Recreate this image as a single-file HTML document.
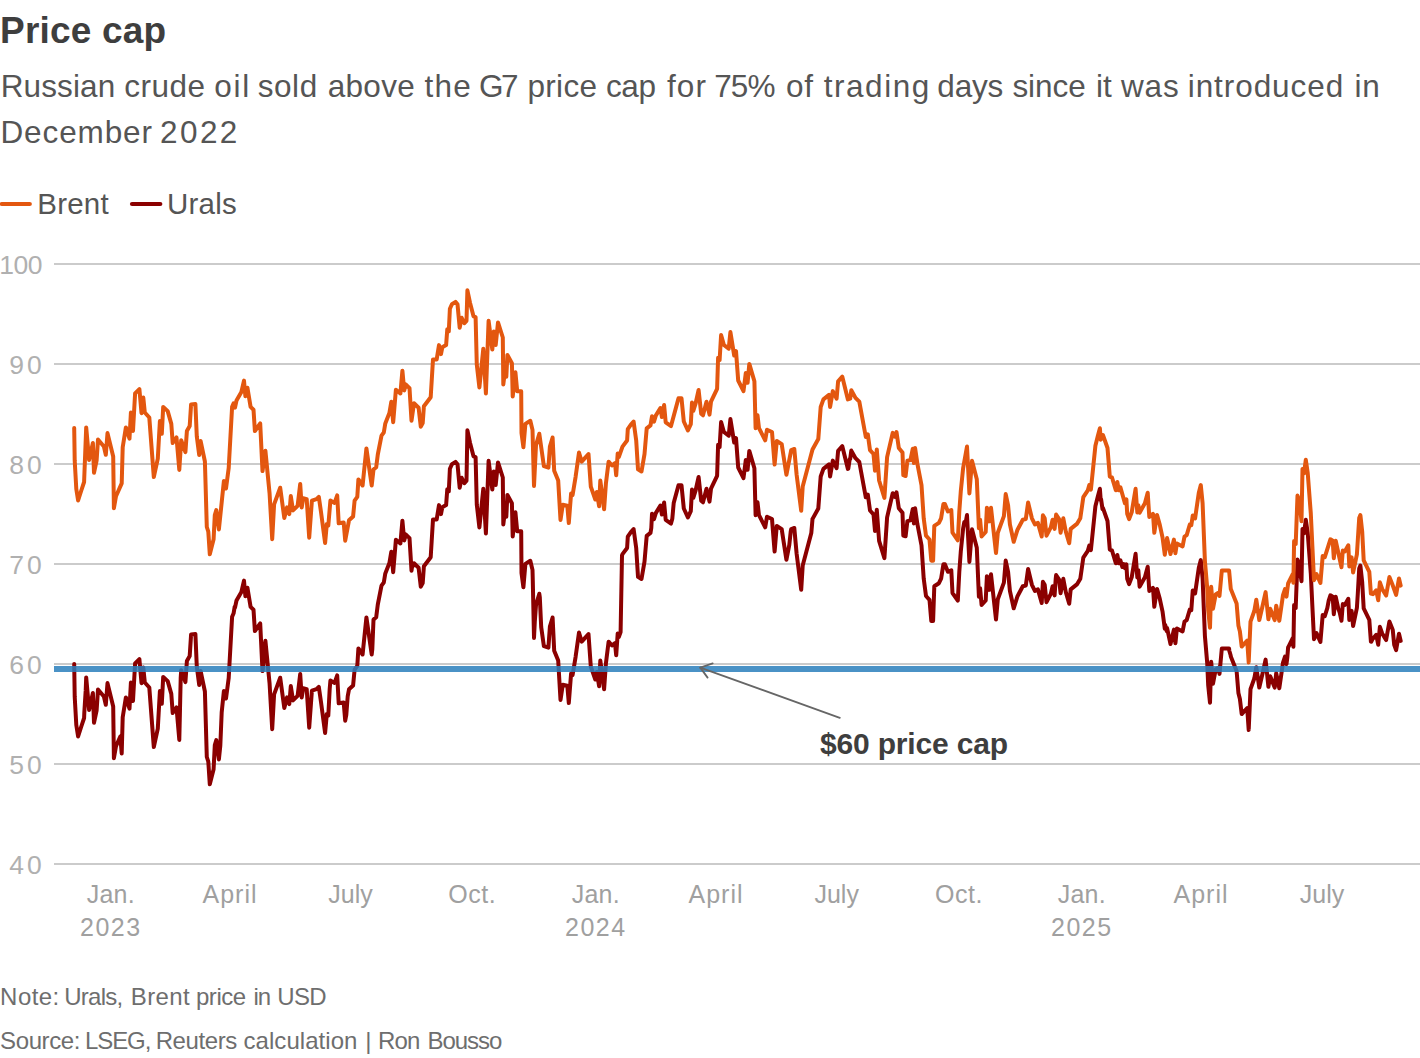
<!DOCTYPE html>
<html><head><meta charset="utf-8">
<style>
html,body{margin:0;padding:0;background:#fff;}
body{width:1420px;height:1058px;position:relative;overflow:hidden;font-family:"Liberation Sans",sans-serif;color:#404040;}
.t{position:absolute;white-space:nowrap;line-height:1;}
#title{left:0px;top:12.1px;font-size:37px;font-weight:bold;color:#3e3e3e;letter-spacing:0.2px;}
.sub{font-size:31.5px;color:#555;left:-0.5px;}
.leg{font-size:29.5px;color:#555;}
.yl{font-size:26.5px;color:#b0b0b0;right:1378.1px;letter-spacing:-0.5px;}
.y2{letter-spacing:3.0px;right:1375.2px;}
.xl{font-size:25px;color:#a0a0a0;transform:translateX(-50%);}
.ft{font-size:24px;color:#6e6e6e;left:0;}
svg{position:absolute;left:0;top:0;}
</style></head><body>
<svg width="1420" height="1058" viewBox="0 0 1420 1058">
<g stroke="#cbcbcb" stroke-width="2"><line x1="54" x2="1420" y1="264" y2="264"/><line x1="54" x2="1420" y1="364" y2="364"/><line x1="54" x2="1420" y1="464" y2="464"/><line x1="54" x2="1420" y1="564" y2="564"/><line x1="54" x2="1420" y1="664" y2="664"/><line x1="54" x2="1420" y1="764" y2="764"/><line x1="54" x2="1420" y1="864" y2="864"/></g>
<!--LINES--><g fill="none" stroke-width="4" stroke-linejoin="round" stroke-linecap="round"><path stroke="#8b0000" d="M74.2 664.1L74.7 696.7L76.3 725.0L78.1 736.4L81.3 726.5L84.1 718.0L84.3 712.8L85.7 690.4L86.2 677.4L89.1 710.0L92.9 693.0L94.0 722.8L96.6 710.7L98.0 689.5L103.9 696.5L105.8 704.8L107.5 683.1L113.2 706.5L113.9 758.2L116.0 746.2L120.3 736.5L121.7 753.4L121.7 753.4L122.7 717.3L125.9 697.4L129.5 708.7L130.9 682.5L133.0 701.0L135.1 663.4L139.4 659.1L141.5 683.2L143.3 667.6L144.8 682.5L149.3 687.5L153.8 747.0L157.8 728.6L159.9 691.0L161.8 703.8L163.2 676.9L167.7 681.1L171.3 693.9L172.7 713.0L176.5 707.3L179.3 739.9L179.3 739.9L180.7 678.0L181.2 670.2L185.4 682.2L186.9 661.0L189.7 656.0L191.1 634.4L195.4 634.0L196.8 666.6L199.2 685.0L200.6 670.9L204.9 691.5L206.8 757.0L208.3 761.6L209.8 784.3L213.6 769.2L214.8 745.0L216.3 740.1L218.9 759.4L220.3 745.8L221.7 712.2L223.9 690.9L226.0 698.5L228.7 678.0L232.1 616.8L233.3 614.0L233.6 613.3L234.7 606.7L235.0 607.6L236.5 600.5L241.4 592.0L244.0 580.6L245.4 596.2L247.4 587.7L250.6 606.9L253.5 609.7L254.9 631.0L260.2 623.4L262.5 671.1L263.3 665.5L264.7 645.6L265.4 640.7L269.6 683.8L272.2 729.2L274.1 694.4L280.2 677.7L284.3 708.0L287.0 697.4L289.3 704.2L290.8 686.1L293.0 700.4L297.6 695.9L300.2 674.0L301.7 697.4L303.2 688.3L306.7 689.1L309.2 727.7L311.9 690.6L316.5 689.1L318.8 686.8L321.0 702.0L325.1 733.0L326.8 714.0L328.3 715.6L328.3 715.6L329.7 688.9L330.4 680.6L334.6 682.9L337.2 675.3L338.7 703.3L343.7 702.5L345.2 720.7L346.3 714.8L347.7 696.3L349.0 689.3L353.1 685.5L354.6 669.6L357.3 665.8L358.4 648.4L362.6 654.5L366.4 617.4L371.7 654.5L372.3 649.2L373.5 619.6L373.7 619.4L376.2 617.3L377.8 604.5L381.5 585.6L383.8 582.5L385.3 573.4L389.4 563.1L391.3 551.8L393.2 572.2L395.9 539.7L400.4 543.5L402.4 520.8L404.2 540.4L405.7 534.4L409.5 538.2L411.5 570.7L412.3 565.1L413.7 565.4L414.0 563.3L418.6 567.8L420.8 586.7L422.7 583.0L423.9 566.3L430.7 557.2L433.0 519.4L436.7 519.4L439.0 505.1L441.0 514.1L442.3 507.3L446.1 505.1L447.3 489.2L448.8 491.4L449.9 468.7L451.9 464.2L455.6 461.9L457.5 464.2L459.7 487.7L461.7 477.8L464.4 483.1L466.3 481.0L466.5 480.8L467.4 430.3L467.7 431.7L470.0 442.7L473.5 456.3L475.6 457.1L476.8 504.7L479.4 527.4L483.3 488.8L485.9 533.5L488.6 460.8L492.3 489.6L493.8 471.4L495.7 485.1L498.0 462.4L502.8 477.5L503.3 524.4L505.6 506.2L506.3 516.8L507.4 494.9L511.9 503.2L512.7 536.5L515.4 512.3L517.2 531.2L521.2 531.3L521.5 573.0L523.4 587.3L525.4 563.9L530.3 560.8L532.5 569.9L532.8 581.1L534.0 637.9L534.2 633.8L534.8 621.6L536.0 605.1L536.2 604.4L539.3 593.7L539.8 597.2L541.2 627.1L543.9 646.2L548.4 647.7L549.9 626.6L552.6 617.5L554.2 650.8L558.2 660.6L560.5 699.9L562.8 684.8L567.3 685.6L568.8 703.0L571.1 673.5L572.6 675.0L575.6 656.8L579.0 632.6L581.7 641.7L588.5 634.1L590.8 666.7L595.3 679.5L596.8 672.0L599.1 686.3L600.3 660.6L604.1 689.3L605.9 663.6L608.6 641.7L612.0 645.5L615.0 643.2L616.2 655.3L617.7 633.4L618.8 637.2L620.6 632.0L622.0 555.5L622.5 554.1L627.1 548.0L627.8 536.7L630.9 532.1L633.6 529.1L636.2 548.0L638.0 576.8L641.5 579.0L644.5 561.6L646.7 535.9L650.5 532.9L651.3 528.0L652.0 513.8L652.7 515.7L654.0 519.1L655.8 513.1L660.4 505.5L661.9 514.6L664.1 502.5L665.7 519.9L671.0 523.6L672.3 518.8L673.7 503.1L678.5 485.2L681.5 485.2L683.8 508.5L687.9 517.5L690.8 511.1L692.0 489.6L693.3 497.8L695.5 491.0L698.6 477.0L701.2 500.8L703.0 502.3L706.5 488.7L709.5 501.6L711.0 488.7L717.1 475.8L718.1 444.8L719.6 447.1L721.1 422.1L723.9 432.0L728.7 435.7L730.4 419.1L734.2 442.6L736.0 438.0L738.2 467.5L743.5 478.1L745.8 459.9L747.6 469.8L749.3 450.9L754.4 468.3L755.6 515.2L757.5 502.3L759.0 515.2L765.2 527.3L767.0 516.7L772.0 519.0L774.6 551.5L774.9 548.3L776.3 531.3L776.8 526.0L781.7 529.1L786.4 559.8L789.3 544.9L790.7 531.7L791.2 529.1L794.3 528.0L796.6 553.5L801.2 589.8L802.7 565.6L811.3 533.0L812.5 519.0L812.7 518.6L818.3 508.5L820.7 476.5L823.4 468.9L829.0 464.4L830.1 476.5L832.8 460.6L836.6 468.2L838.1 450.8L842.3 446.2L847.9 468.9L848.3 468.8L849.7 459.2L850.2 459.0L851.3 450.6L855.5 458.2L859.3 462.0L865.8 497.3L867.8 494.6L870.0 510.5L873.5 514.3L875.0 531.0L876.8 509.8L879.1 540.8L884.4 558.2L887.1 517.4L892.7 493.2L895.0 496.9L896.5 492.4L898.8 508.3L902.5 512.8L903.3 535.5L905.6 536.3L907.4 521.1L910.4 520.4L912.8 509.0L913.9 523.4L915.1 508.3L917.4 524.2L921.5 545.4L923.7 578.6L926.0 596.0L929.5 599.8L931.3 621.0L933.1 621.0L934.3 586.2L938.9 583.2L941.1 578.6L943.4 564.3L944.9 564.3L947.9 571.8L951.3 570.3L952.5 593.0L957.8 600.6L959.3 571.8L960.8 551.4L963.1 528.7L964.3 522.0L965.7 522.3L967.0 515.0L969.4 561.9L972.0 529.3L976.8 547.8L978.9 596.7L980.1 588.3L981.6 605.0L985.7 600.5L986.9 576.2L989.2 589.9L989.3 589.1L990.7 576.5L991.0 574.2L996.0 619.6L997.8 599.2L1003.9 582.6L1005.7 560.6L1008.1 572.0L1009.9 590.9L1013.7 608.3L1017.5 596.2L1022.8 586.3L1025.8 585.6L1028.1 569.0L1031.9 584.8L1034.9 590.9L1037.9 589.4L1041.7 603.0L1042.9 581.8L1044.7 584.8L1046.5 602.2L1050.8 593.9L1052.6 586.3L1054.3 594.0L1054.6 595.4L1055.7 578.9L1056.1 575.1L1059.1 579.6L1060.6 593.2L1063.3 578.8L1065.9 592.5L1069.2 603.8L1070.7 589.4L1077.2 584.1L1080.3 578.8L1083.3 557.7L1087.8 550.8L1089.3 545.6L1090.9 550.1L1095.4 506.2L1097.7 497.1L1099.9 488.8L1100.7 500.2L1101.1 499.4L1102.5 509.1L1103.0 508.1L1107.5 521.0L1109.8 549.7L1112.0 550.5L1115.8 563.3L1117.3 555.0L1118.9 563.3L1120.4 560.3L1122.3 567.0L1123.7 564.0L1124.9 568.2L1126.4 564.4L1127.2 578.8L1129.1 584.1L1131.7 577.3L1135.6 553.8L1137.3 577.4L1138.3 570.2L1138.3 570.2L1139.6 586.7L1139.7 586.5L1144.9 577.2L1147.7 566.7L1149.3 590.9L1153.0 587.9L1154.3 606.8L1157.0 588.9L1159.8 598.8L1162.5 611.3L1164.8 628.7L1165.3 625.1L1166.7 631.0L1167.1 628.1L1170.5 644.0L1173.9 629.6L1175.4 643.2L1175.5 642.5L1176.9 628.4L1176.9 628.4L1182.6 631.4L1184.5 621.6L1186.7 620.1L1189.8 609.5L1191.3 610.2L1191.3 610.2L1192.7 591.1L1192.8 590.4L1195.1 593.4L1198.8 567.7L1200.8 560.1L1202.6 578.3L1204.9 635.8L1207.2 663.0L1208.2 685.3L1210.0 702.7L1211.2 661.8L1213.0 683.7L1215.7 669.4L1218.0 667.9L1218.3 668.5L1219.5 673.9L1219.7 671.7L1221.8 648.6L1229.1 648.6L1229.3 650.8L1230.7 655.5L1230.8 656.6L1236.6 670.9L1238.4 692.9L1239.9 698.9L1241.7 714.1L1247.2 708.0L1248.7 730.0L1250.5 689.1L1254.3 678.5L1256.3 667.2L1259.3 687.6L1262.6 673.2L1265.6 659.6L1268.4 686.8L1270.2 676.2L1274.7 687.6L1276.2 673.2L1279.3 688.3L1283.0 662.6L1285.0 656.6L1286.5 664.1L1287.3 657.5L1288.1 647.5L1288.7 646.3L1292.6 638.4L1293.4 646.7L1294.1 605.1L1295.7 608.1L1297.5 559.5L1299.6 566.4L1300.3 573.3L1301.5 581.2L1301.7 570.7L1302.5 528.9L1304.0 533.4L1305.8 519.8L1307.7 532.7L1310.8 573.5L1312.3 604.8L1313.7 632.9L1314.0 639.2L1316.6 633.2L1320.4 642.0L1322.7 615.0L1324.8 616.2L1327.3 608.2L1328.7 600.7L1330.4 595.3L1332.7 596.8L1333.8 614.2L1335.7 596.8L1338.3 608.6L1339.7 612.5L1341.5 620.7L1342.8 604.1L1344.8 604.9L1348.3 598.8L1349.3 620.0L1351.6 610.9L1353.1 626.0L1356.9 607.9L1357.8 593.7L1359.2 568.6L1359.2 568.6L1360.4 565.6L1362.2 582.2L1362.3 584.1L1363.7 608.4L1363.7 608.4L1369.3 619.8L1370.9 641.6L1371.3 641.7L1372.7 638.6L1372.9 638.7L1376.2 634.8L1378.2 644.7L1379.9 626.8L1382.2 633.4L1386.1 640.1L1389.4 621.5L1392.1 628.2L1392.8 630.2L1394.2 644.9L1396.1 650.2L1399.0 633.7L1400.7 640.9"/><path stroke="#e3570f" d="M74.2 428.1L74.7 460.7L76.3 489.0L78.1 500.4L81.3 490.5L84.1 482.0L86.2 427.4L89.1 460.0L92.9 443.0L94.0 472.8L96.6 460.7L98.0 439.5L103.9 446.5L105.8 454.8L107.5 433.1L113.2 456.5L113.9 508.2L116.0 496.2L121.7 483.4L122.7 447.3L125.9 427.4L129.5 438.7L130.9 412.5L133.0 431.0L135.1 393.4L139.4 389.1L141.5 413.2L143.3 397.6L144.8 412.5L149.3 417.5L153.8 477.0L157.8 458.6L159.9 421.0L161.8 433.8L163.2 406.9L167.7 411.1L171.3 423.9L172.7 443.0L176.5 437.3L179.3 469.9L181.2 440.2L185.4 452.2L186.9 431.0L189.7 426.0L191.1 404.4L195.4 404.0L196.8 436.6L199.2 455.0L200.6 440.9L204.9 461.5L206.8 527.0L208.3 531.6L209.8 554.3L213.6 539.2L214.8 515.0L216.3 510.1L218.9 529.4L223.9 480.9L226.0 488.5L228.7 468.0L232.1 406.8L233.6 403.3L235.0 407.6L236.5 400.5L241.4 392.0L244.0 380.6L245.4 396.2L247.4 387.7L250.6 406.9L253.5 409.7L254.9 431.0L260.2 423.4L262.5 471.1L265.4 450.7L269.6 493.8L272.2 539.2L274.1 504.4L280.2 487.7L284.3 518.0L287.0 507.4L289.3 514.2L290.8 496.1L293.0 510.4L297.6 505.9L300.2 484.0L301.7 507.4L303.2 498.3L306.7 499.1L309.2 537.7L311.9 500.6L316.5 499.1L318.8 496.8L321.0 512.0L325.1 543.0L326.8 524.0L328.3 525.6L330.4 500.6L334.6 502.9L337.2 495.3L338.7 523.3L343.7 522.5L345.2 540.7L349.0 520.3L353.1 516.5L354.6 500.6L357.3 496.8L358.4 479.4L362.6 485.5L366.4 448.4L371.7 485.5L373.5 469.6L376.2 467.3L377.8 454.5L381.5 435.6L383.8 432.5L385.3 423.4L389.4 413.1L391.3 401.8L393.2 422.2L395.9 389.7L400.4 393.5L402.4 370.8L404.2 390.4L405.7 384.4L409.5 388.2L411.5 420.7L414.0 403.3L418.6 407.8L420.8 426.7L422.7 423.0L423.9 406.3L430.7 397.2L433.0 359.4L436.7 359.4L439.0 345.1L441.0 354.1L442.3 347.3L446.1 345.1L447.3 329.2L448.8 331.4L449.9 308.7L451.9 304.2L455.6 301.9L457.5 304.2L459.7 327.7L461.7 317.8L464.4 323.1L466.5 320.8L467.4 290.3L470.0 302.7L473.5 316.3L475.6 317.1L476.8 364.7L479.4 387.4L483.3 348.8L485.9 393.5L488.6 320.8L492.3 349.6L493.8 331.4L495.7 345.1L498.0 322.4L502.8 337.5L503.3 384.4L505.6 366.2L506.3 376.8L507.4 354.9L511.9 363.2L512.7 396.5L515.4 372.3L517.2 391.2L521.2 391.3L521.5 433.0L523.4 447.3L525.4 423.9L530.3 420.8L532.5 429.9L534.0 485.9L536.0 445.1L539.3 433.7L543.9 466.2L548.4 467.7L549.9 446.6L552.6 437.5L554.2 470.8L558.2 480.6L560.5 519.9L562.8 504.8L567.3 505.6L568.8 523.0L571.1 493.5L572.6 495.0L575.6 476.8L579.0 452.6L581.7 461.7L588.5 454.1L590.8 486.7L595.3 499.5L596.8 492.0L599.1 506.3L600.3 480.6L604.1 509.3L605.9 483.6L608.6 461.7L612.0 465.5L615.0 463.2L616.2 475.3L617.7 453.4L618.8 457.2L622.5 446.6L627.1 440.5L627.8 429.2L630.9 424.6L633.6 421.6L636.2 440.5L638.0 469.3L641.5 471.5L644.5 454.1L646.7 428.4L650.5 425.4L652.0 416.3L654.0 421.6L655.8 415.6L660.4 408.0L661.9 417.1L664.1 405.0L665.7 422.4L671.0 426.1L678.5 398.2L681.5 398.2L683.8 421.5L687.9 430.5L690.8 424.1L692.0 402.6L693.3 410.8L695.5 404.0L698.6 390.0L701.2 413.8L703.0 415.3L706.5 401.7L709.5 414.6L711.0 401.7L717.1 388.8L718.1 357.8L719.6 360.1L721.1 335.1L723.9 345.0L728.7 348.7L730.4 332.1L734.2 355.6L736.0 351.0L738.2 380.5L743.5 391.1L745.8 372.9L747.6 382.8L749.3 363.9L754.4 381.3L755.6 428.2L757.5 415.3L759.0 428.2L765.2 440.3L767.0 429.7L772.0 432.0L774.6 464.5L776.8 441.0L781.7 444.1L786.4 474.8L791.2 450.1L794.3 449.0L796.6 474.5L801.2 510.8L802.7 486.6L812.5 449.5L818.3 439.0L820.7 407.0L823.4 399.4L829.0 394.9L830.1 407.0L832.8 391.1L836.6 398.7L838.1 381.3L842.3 376.7L847.9 399.4L850.2 398.7L851.3 390.3L855.5 397.9L859.3 401.7L865.8 437.0L867.8 434.3L870.0 450.2L873.5 454.0L875.0 470.7L876.8 449.5L879.1 480.5L884.4 497.9L887.1 457.1L892.7 432.9L895.0 436.6L896.5 432.1L898.8 448.0L902.5 452.5L903.3 475.2L905.6 476.0L907.4 460.8L910.4 460.1L912.8 448.7L913.9 463.1L915.1 448.0L917.4 463.9L921.5 485.1L923.7 518.3L926.0 535.7L929.5 539.5L931.3 560.7L933.1 560.7L934.3 525.9L938.9 522.9L941.1 518.3L943.4 504.0L944.9 504.0L947.9 511.5L951.3 510.0L952.5 532.7L957.8 540.3L959.3 511.5L960.8 491.1L963.1 468.4L967.0 446.5L969.4 493.4L972.0 460.8L976.8 479.3L978.9 528.2L980.1 519.8L981.6 536.5L985.7 532.0L986.9 507.7L989.2 521.4L991.0 507.7L996.0 553.1L997.8 532.7L1003.9 516.1L1005.7 494.1L1008.1 505.5L1009.9 524.4L1013.7 541.8L1017.5 529.7L1022.8 519.8L1025.8 519.1L1028.1 502.5L1031.9 518.3L1034.9 524.4L1037.9 522.9L1041.7 536.5L1042.9 515.3L1044.7 518.3L1046.5 535.7L1050.8 527.4L1052.6 519.8L1054.6 528.9L1056.1 514.6L1059.1 519.1L1060.6 532.7L1063.3 518.3L1065.9 532.0L1069.2 543.3L1070.7 528.9L1077.2 523.6L1080.3 518.3L1083.3 497.2L1087.8 490.3L1089.3 485.1L1090.9 489.6L1095.4 445.7L1097.7 436.6L1099.9 428.3L1100.7 439.7L1103.0 435.1L1107.5 448.0L1109.8 476.7L1112.0 477.5L1115.8 490.3L1117.3 482.0L1118.9 490.3L1120.4 487.3L1124.9 503.2L1126.4 499.4L1127.2 513.8L1129.1 519.1L1131.7 512.3L1135.6 488.8L1137.3 512.4L1138.3 505.2L1139.6 512.7L1144.9 503.2L1147.7 492.7L1149.3 516.9L1153.0 513.9L1154.3 532.8L1157.0 514.9L1159.8 524.8L1162.5 537.3L1164.8 554.7L1167.1 538.1L1170.5 554.0L1173.9 539.6L1175.4 553.2L1176.9 543.4L1182.6 546.4L1184.5 536.6L1186.7 535.1L1189.8 524.5L1191.3 525.2L1192.8 515.4L1195.1 518.4L1198.8 492.7L1200.8 485.1L1202.6 503.3L1204.9 560.8L1207.2 588.0L1208.2 610.3L1210.0 627.7L1211.2 586.8L1213.0 608.7L1215.7 594.4L1218.0 592.9L1219.5 595.9L1221.8 570.6L1229.1 570.6L1230.8 589.1L1236.6 603.4L1238.4 625.4L1239.9 631.4L1241.7 646.6L1247.2 640.5L1248.7 662.5L1250.5 621.6L1254.3 611.0L1256.3 599.7L1259.3 620.1L1262.6 605.7L1265.6 592.1L1268.4 619.3L1270.2 608.7L1274.7 620.1L1276.2 605.7L1279.3 620.8L1283.0 595.1L1285.0 589.1L1286.5 596.6L1288.1 583.5L1292.6 574.4L1293.4 582.7L1294.1 541.1L1295.7 544.1L1297.5 495.5L1299.6 502.4L1301.5 521.2L1302.5 468.9L1304.0 473.4L1305.8 459.8L1307.7 472.7L1310.8 513.5L1314.0 580.2L1316.6 574.2L1320.4 583.0L1322.7 556.0L1324.8 557.2L1330.4 539.3L1332.7 540.8L1333.8 558.2L1335.7 540.8L1341.5 567.2L1342.8 550.6L1344.8 551.4L1348.3 545.3L1349.3 566.5L1351.6 557.4L1353.1 572.5L1356.9 554.4L1359.2 518.1L1360.4 515.1L1362.2 531.7L1363.7 560.4L1369.3 571.8L1370.9 593.6L1372.9 594.2L1376.2 590.3L1378.2 600.2L1379.9 582.3L1382.2 588.9L1386.1 595.6L1389.4 577.0L1392.1 583.7L1396.1 594.9L1399.0 578.4L1400.7 585.6"/></g><!--/LINES-->
<rect x="54" y="666" width="1366" height="6" fill="#2a7fbc" fill-opacity="0.85"/>
<g stroke="#666" stroke-width="1.8" fill="none" stroke-linecap="round" stroke-linejoin="round">
<path d="M839.8 717.8L700.3 667.6"/><path d="M712.7 663.4L700.3 667.6L707.6 677.6"/>
</g>
<g stroke-width="4.2" stroke-linecap="round"><line x1="1.8" x2="29.8" y1="204" y2="204" stroke="#e3570f"/><line x1="132" x2="160.3" y1="204" y2="204" stroke="#8b0000"/></g>
</svg>
<div class="t" id="title">Price cap</div>
<div class="t sub" style="left:0.70px;top:70.8px;letter-spacing:0.13px">Russian</div>
<div class="t sub" style="left:124.20px;top:70.8px;letter-spacing:0.53px">crude</div>
<div class="t sub" style="left:214.30px;top:70.8px;letter-spacing:1.70px">oil</div>
<div class="t sub" style="left:257.70px;top:70.8px;letter-spacing:0.57px">sold</div>
<div class="t sub" style="left:327.80px;top:70.8px;letter-spacing:0.27px">above</div>
<div class="t sub" style="left:424.60px;top:70.8px;letter-spacing:1.20px">the</div>
<div class="t sub" style="left:479.00px;top:70.8px;letter-spacing:-2.5px">G7</div>
<div class="t sub" style="left:527.40px;top:70.8px;letter-spacing:0.35px">price</div>
<div class="t sub" style="left:605.90px;top:70.8px;letter-spacing:-0.35px">cap</div>
<div class="t sub" style="left:666.90px;top:70.8px;letter-spacing:1.20px">for</div>
<div class="t sub" style="left:714.30px;top:70.8px;letter-spacing:-0.95px">75%</div>
<div class="t sub" style="left:786.10px;top:70.8px;letter-spacing:0.70px">of</div>
<div class="t sub" style="left:823.80px;top:70.8px;letter-spacing:1.52px">trading</div>
<div class="t sub" style="left:937.30px;top:70.8px;letter-spacing:-0.17px">days</div>
<div class="t sub" style="left:1012.40px;top:70.8px;letter-spacing:-0.05px">since</div>
<div class="t sub" style="left:1095.90px;top:70.8px;letter-spacing:0.00px">it</div>
<div class="t sub" style="left:1120.90px;top:70.8px;letter-spacing:0.90px">was</div>
<div class="t sub" style="left:1187.70px;top:70.8px;letter-spacing:0.94px">introduced</div>
<div class="t sub" style="left:1354.60px;top:70.8px;letter-spacing:0.70px">in</div>
<div class="t sub" style="left:0.50px;top:117px;letter-spacing:0.87px">December</div>
<div class="t sub" style="left:160.00px;top:117px;letter-spacing:2.43px">2022</div>
<div class="t leg" id="l1" style="left:37.3px;top:189.4px;letter-spacing:0.2px">Brent</div>
<div class="t leg" id="l2" style="left:167px;top:189.4px;letter-spacing:0.2px">Urals</div>
<div class="t yl" id="y100" style="top:252.0px">100</div>
<div class="t yl y2" id="y90" style="top:352.0px">90</div>
<div class="t yl y2" id="y80" style="top:452.0px">80</div>
<div class="t yl y2" id="y70" style="top:552.0px">70</div>
<div class="t yl y2" id="y60" style="top:652.0px">60</div>
<div class="t yl y2" id="y50" style="top:752.0px">50</div>
<div class="t yl y2" id="y40" style="top:852.0px">40</div>
<div class="t xl" id="x0" style="left:110.8px;top:882px;letter-spacing:0.2px">Jan.</div>
<div class="t xl" id="x0b" style="left:110.8px;top:915px;letter-spacing:1.5px">2023</div>
<div class="t xl" id="x1" style="left:230.0px;top:882px;letter-spacing:1px">April</div>
<div class="t xl" id="x2" style="left:350.5px;top:882px">July</div>
<div class="t xl" id="x3" style="left:472.3px;top:882px;letter-spacing:0.6px">Oct.</div>
<div class="t xl" id="x4" style="left:595.8px;top:882px;letter-spacing:0.2px">Jan.</div>
<div class="t xl" id="x4b" style="left:595.8px;top:915px;letter-spacing:1.5px">2024</div>
<div class="t xl" id="x5" style="left:716.0px;top:882px;letter-spacing:1px">April</div>
<div class="t xl" id="x6" style="left:836.7px;top:882px">July</div>
<div class="t xl" id="x7" style="left:959.0px;top:882px;letter-spacing:0.6px">Oct.</div>
<div class="t xl" id="x8" style="left:1081.8px;top:882px;letter-spacing:0.2px">Jan.</div>
<div class="t xl" id="x8b" style="left:1081.8px;top:915px;letter-spacing:1.5px">2025</div>
<div class="t xl" id="x9" style="left:1201.0px;top:882px;letter-spacing:1px">April</div>
<div class="t xl" id="x10" style="left:1322.0px;top:882px">July</div>
<div class="t" id="ann" style="left:820px;top:728.5px;font-size:30px;font-weight:bold;color:#3e3e3e;letter-spacing:-0.18px">$60 price cap</div>
<div class="t ft" style="left:0.10px;top:985.1px;letter-spacing:0.45px">Note:</div>
<div class="t ft" style="left:64.20px;top:985.1px;letter-spacing:-0.72px">Urals,</div>
<div class="t ft" style="left:130.80px;top:985.1px;letter-spacing:0.40px">Brent</div>
<div class="t ft" style="left:196.00px;top:985.1px;letter-spacing:-0.48px">price</div>
<div class="t ft" style="left:253.50px;top:985.1px;letter-spacing:-1.0px">in</div>
<div class="t ft" style="left:277.30px;top:985.1px;letter-spacing:-0.70px">USD</div>
<div class="t ft" style="left:0.10px;top:1029px;letter-spacing:-0.40px">Source:</div>
<div class="t ft" style="left:85.00px;top:1029px;letter-spacing:-1.1px">LSEG,</div>
<div class="t ft" style="left:155.70px;top:1029px;letter-spacing:-0.40px">Reuters</div>
<div class="t ft" style="left:243.50px;top:1029px;letter-spacing:0.05px">calculation</div>
<div class="t ft" style="left:365.20px;top:1029px;letter-spacing:-1.10px">|</div>
<div class="t ft" style="left:378.00px;top:1029px;letter-spacing:-0.85px">Ron</div>
<div class="t ft" style="left:427.40px;top:1029px;letter-spacing:-1.00px">Bousso</div>
</body></html>
